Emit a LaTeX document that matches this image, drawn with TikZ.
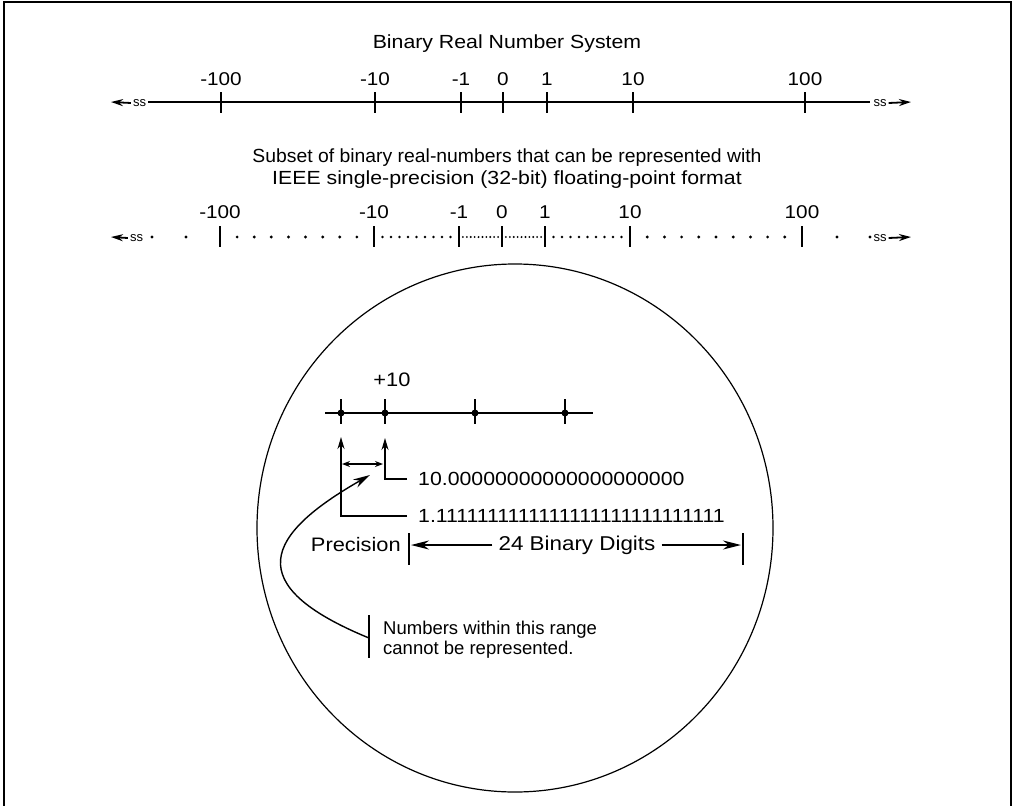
\documentclass[tikz,border=0pt]{standalone}
\usepackage{fontspec}
\usepackage{graphicx}
\setmainfont{Liberation Sans}[FakeStretch=1.12]
\newfontfamily\notefont{Liberation Sans}
\usetikzlibrary{arrows.meta}
\tikzset{
  axis/.style={line width=2.6pt},
  tickmark/.style={line width=2.8pt},
  thinline/.style={line width=1.8pt},
  lbl/.style={inner sep=0pt,font=\fontsize{18.5}{20}\selectfont},
  ttl/.style={inner sep=0pt,font=\fontsize{19}{22}\selectfont,align=center},
  txt/.style={inner sep=0pt,font=\fontsize{19.5}{22}\selectfont},
  num/.style={anchor=west,inner ysep=0pt,inner xsep=11pt,font=\fontsize{19}{22}\selectfont},
  note/.style={anchor=west,inner sep=0pt,align=left,font=\notefont\fontsize{18.5}{20}\selectfont},
  brk/.style={inner ysep=0pt,inner xsep=2pt,font=\notefont\fontsize{13}{13}\selectfont},
  endtip/.style={-{Stealth[length=12pt,width=7pt]},line width=1.8pt},
  uptip/.style={-{Stealth[length=12pt,width=7pt]},line width=1.8pt},
  gaptip/.style={{Stealth[length=8pt,width=6pt]}-{Stealth[length=8pt,width=6pt]},line width=1.5pt},
  spantip/.style={-{Stealth[length=18pt,width=9pt]},line width=1.8pt},
  curvetip/.style={-{Stealth[length=17pt,width=9pt]},line width=1.4pt},
  fdot/.style={circle,fill,inner sep=0pt,minimum size=7pt},
}
\begin{document}
\begin{tikzpicture}[x=1pt,y=-1pt]
\useasboundingbox (0,0) rectangle (1013,806);
% frame
\draw[line width=2.5pt] (4,806) -- (4,2) -- (1011,2) -- (1011,806);

% binary real number system
\node[ttl] (rtitle) at (507,44) {Binary Real Number System};
\coordinate (rl) at (148,102);
\coordinate (rr) at (870,102);
\draw[axis] (rl) -- (rr);
\node[brk] (rbl) at (139.5,103) {ss};
\node[brk] (rbr) at (880,103) {ss};
\coordinate (rtl) at (111,102);
\coordinate (rtr) at (911,102);
\draw[endtip] (rbl.west) -- (rtl);
\draw[endtip] (rbr.east) -- (rtr);
\foreach \x/\t in {221/-100,375/-10,461/-1,503/0,547/1,633/10,805/100} {
  \draw[tickmark] (\x,92) -- (\x,113);
  \node[lbl] (r\x) at (\x,79) {\t};
}

% single-precision subset
\node[ttl] (stitle) at (507,169) {\scalebox{0.91}[1]{Subset of binary real-numbers that can be represented with}\\IEEE single-precision (32-bit) floating-point format};
\foreach \x/\t in {220/-100,374/-10,459/-1,502/0,545/1,630/10,802/100} {
  \draw[tickmark] (\x,226) -- (\x,247);
  \node[lbl] (s\x) at (\x,212) {\t};
}
\node[brk] (sbl) at (136.5,238) {ss};
\node[brk] (sbr) at (880,238) {ss};
\coordinate (stl) at (111,237);
\coordinate (str) at (911,237);
\draw[endtip] (sbl.west) -- (stl);
\draw[endtip] (sbr.east) -- (str);
\foreach \i in {1,...,8}
  \fill ({220+\i*154/9},237) circle (1.6);
\foreach \i in {1,...,9} {
  \fill ({374+\i*8.5},237) circle (1.3);
  \fill ({545+\i*8.5},237) circle (1.3);
  \fill ({630+\i*17.2},237) circle (1.6);
}
\foreach \i in {1,...,10} {
  \fill ({459+\i*43/11},237) circle (1.05);
  \fill ({502+\i*43/11},237) circle (1.05);
}
\foreach \x in {152,186,837,870}
  \fill (\x,237) circle (1.6);

% magnified view
\draw[line width=1.2pt] (515,528) ellipse [x radius=258, y radius=264];
\draw[thinline] (325,413) -- (593,413);
\foreach \x [count=\k] in {341,385,475,565} {
  \draw[thinline] (\x,399) -- (\x,424);
  \node[fdot] (p\k) at (\x,413) {};
}
\node[txt] (plus) at (392,380) {+10};

\coordinate (t1) at (341,437);
\coordinate (t2) at (385,438);
\node[num] (tens) at (407,479) {10.00000000000000000000};
\node[num] (ones) at (407,516) {1.1111111111111111111111111111};
\draw[uptip] (tens.west) -| (t2);
\draw[uptip] (ones.west) -| (t1);
\coordinate (g1) at (342,464);
\coordinate (g2) at (383,464);
\draw[gaptip] (g1) -- (g2);

\node[txt,anchor=east] (prec) at (401,545) {Precision};
\draw[thinline] (409,533) -- (409,565);
\draw[thinline] (743,533) -- (743,565);
\node[txt,font=\fontsize{20}{22}\selectfont,inner xsep=6pt] (digits) at (577,545) {24 Binary Digits};
\coordinate (dl) at (411,545);
\coordinate (dr) at (741,545);
\draw[spantip] (digits.west) -- (dl);
\draw[spantip] (digits.east) -- (dr);

\draw[thinline] (369,615) -- (369,658);
\coordinate (nb) at (369,638);
\coordinate (ct) at (370,475);
\draw[curvetip] (nb) .. controls (240,585) and (265,535) .. (ct);
\node[note] (range) at (383,640) {Numbers within this range\\cannot be represented.};
\end{tikzpicture}
\end{document}
